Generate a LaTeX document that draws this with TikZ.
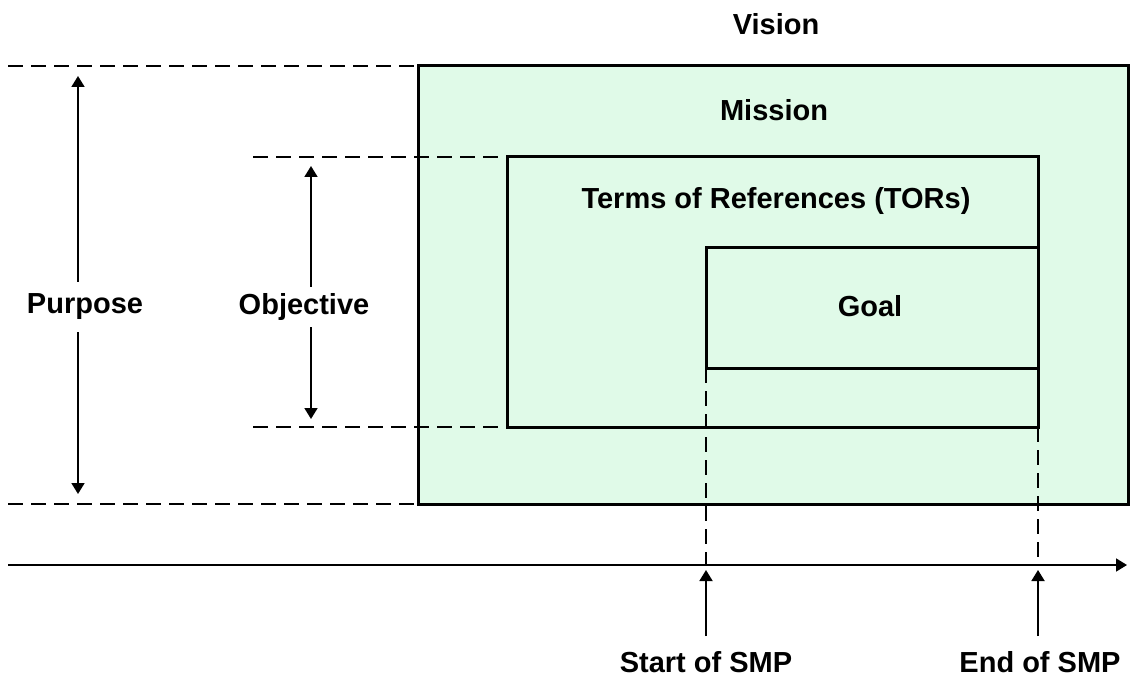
\documentclass[tikz,border=0pt]{standalone}
\usepackage{fontspec}
\setmainfont{Liberation Sans}
\usetikzlibrary{arrows.meta}
\definecolor{boxfill}{RGB}{224,250,232}
\tikzset{
  box/.style={draw=black, line width=3pt, fill=boxfill, inner sep=0pt, outer sep=0pt, anchor=north west},
  lbl/.style={font=\fontsize{29}{32}\selectfont\bfseries, inner sep=0pt},
  guide/.style={line width=1.8pt, dash pattern=on 15pt off 8pt},
  tip/.style={line width=1.8pt, -{Triangle[width=13pt,length=11pt]}},
  both/.style={line width=1.8pt, {Triangle[width=13pt,length=11pt]}-{Triangle[width=13pt,length=11pt]}}
}
\begin{document}
\begin{tikzpicture}[x=1pt,y=-1pt]
\useasboundingbox (0,0) rectangle (1131,679);
% boxes
\node[box, minimum width=710pt, minimum height=438pt] (mission) at (418,66) {};
\node[box, minimum width=531pt, minimum height=270pt] (tor) at (507,157) {};
\node[box, minimum width=332pt, minimum height=121pt] (goal) at (706,247) {};
% guide coordinates
\coordinate (p1) at (8,66);
\coordinate (p2) at (8,504);
\coordinate (o1) at (253,157);
\coordinate (o2) at (253,427);
\coordinate (ax0) at (8,565);
\coordinate (ax1) at (1127,565);
\coordinate (s0) at (706,565);
\coordinate (e0) at (1038,565);
\coordinate (sa) at (706,636);
\coordinate (sb) at (706,570);
\coordinate (ea) at (1038,636);
\coordinate (eb) at (1038,570);
\coordinate (pa) at (78,76);
\coordinate (pb) at (78,494);
\coordinate (oa) at (311,166);
\coordinate (ob) at (311,419);
% dashed guides
\draw[guide] (p1) -- (mission.north west);
\draw[guide] (p2) -- (mission.south west);
\draw[guide] (o1) -- (tor.north west);
\draw[guide] (o2) -- (tor.south west);
\draw[guide] (goal.south west) -- (s0);
\draw[guide] (tor.south east) -- (e0);
% arrows
\draw[both] (pa) -- (pb);
\draw[both] (oa) -- (ob);
\draw[tip] (ax0) -- (ax1);
\draw[tip] (sa) -- (sb);
\draw[tip] (ea) -- (eb);
% texts
\node[lbl] (vision) at (776,24) {Vision};
\node[lbl] (missiont) at (774,110) {Mission};
\node[lbl] (tort) at (776,201) {Terms of References (TORs)};
\node[lbl] (goalt) at (870,306) {Goal};
\node[lbl, fill=white, inner ysep=12pt, inner xsep=2pt] (purpose) at (85,307) {Purpose};
\node[lbl, fill=white, inner ysep=6pt, inner xsep=2pt] (objective) at (304,307) {Objective};
\node[lbl] (start) at (706,662) {Start of SMP};
\node[lbl] (end) at (1040,662) {End of SMP};
\end{tikzpicture}
\end{document}
